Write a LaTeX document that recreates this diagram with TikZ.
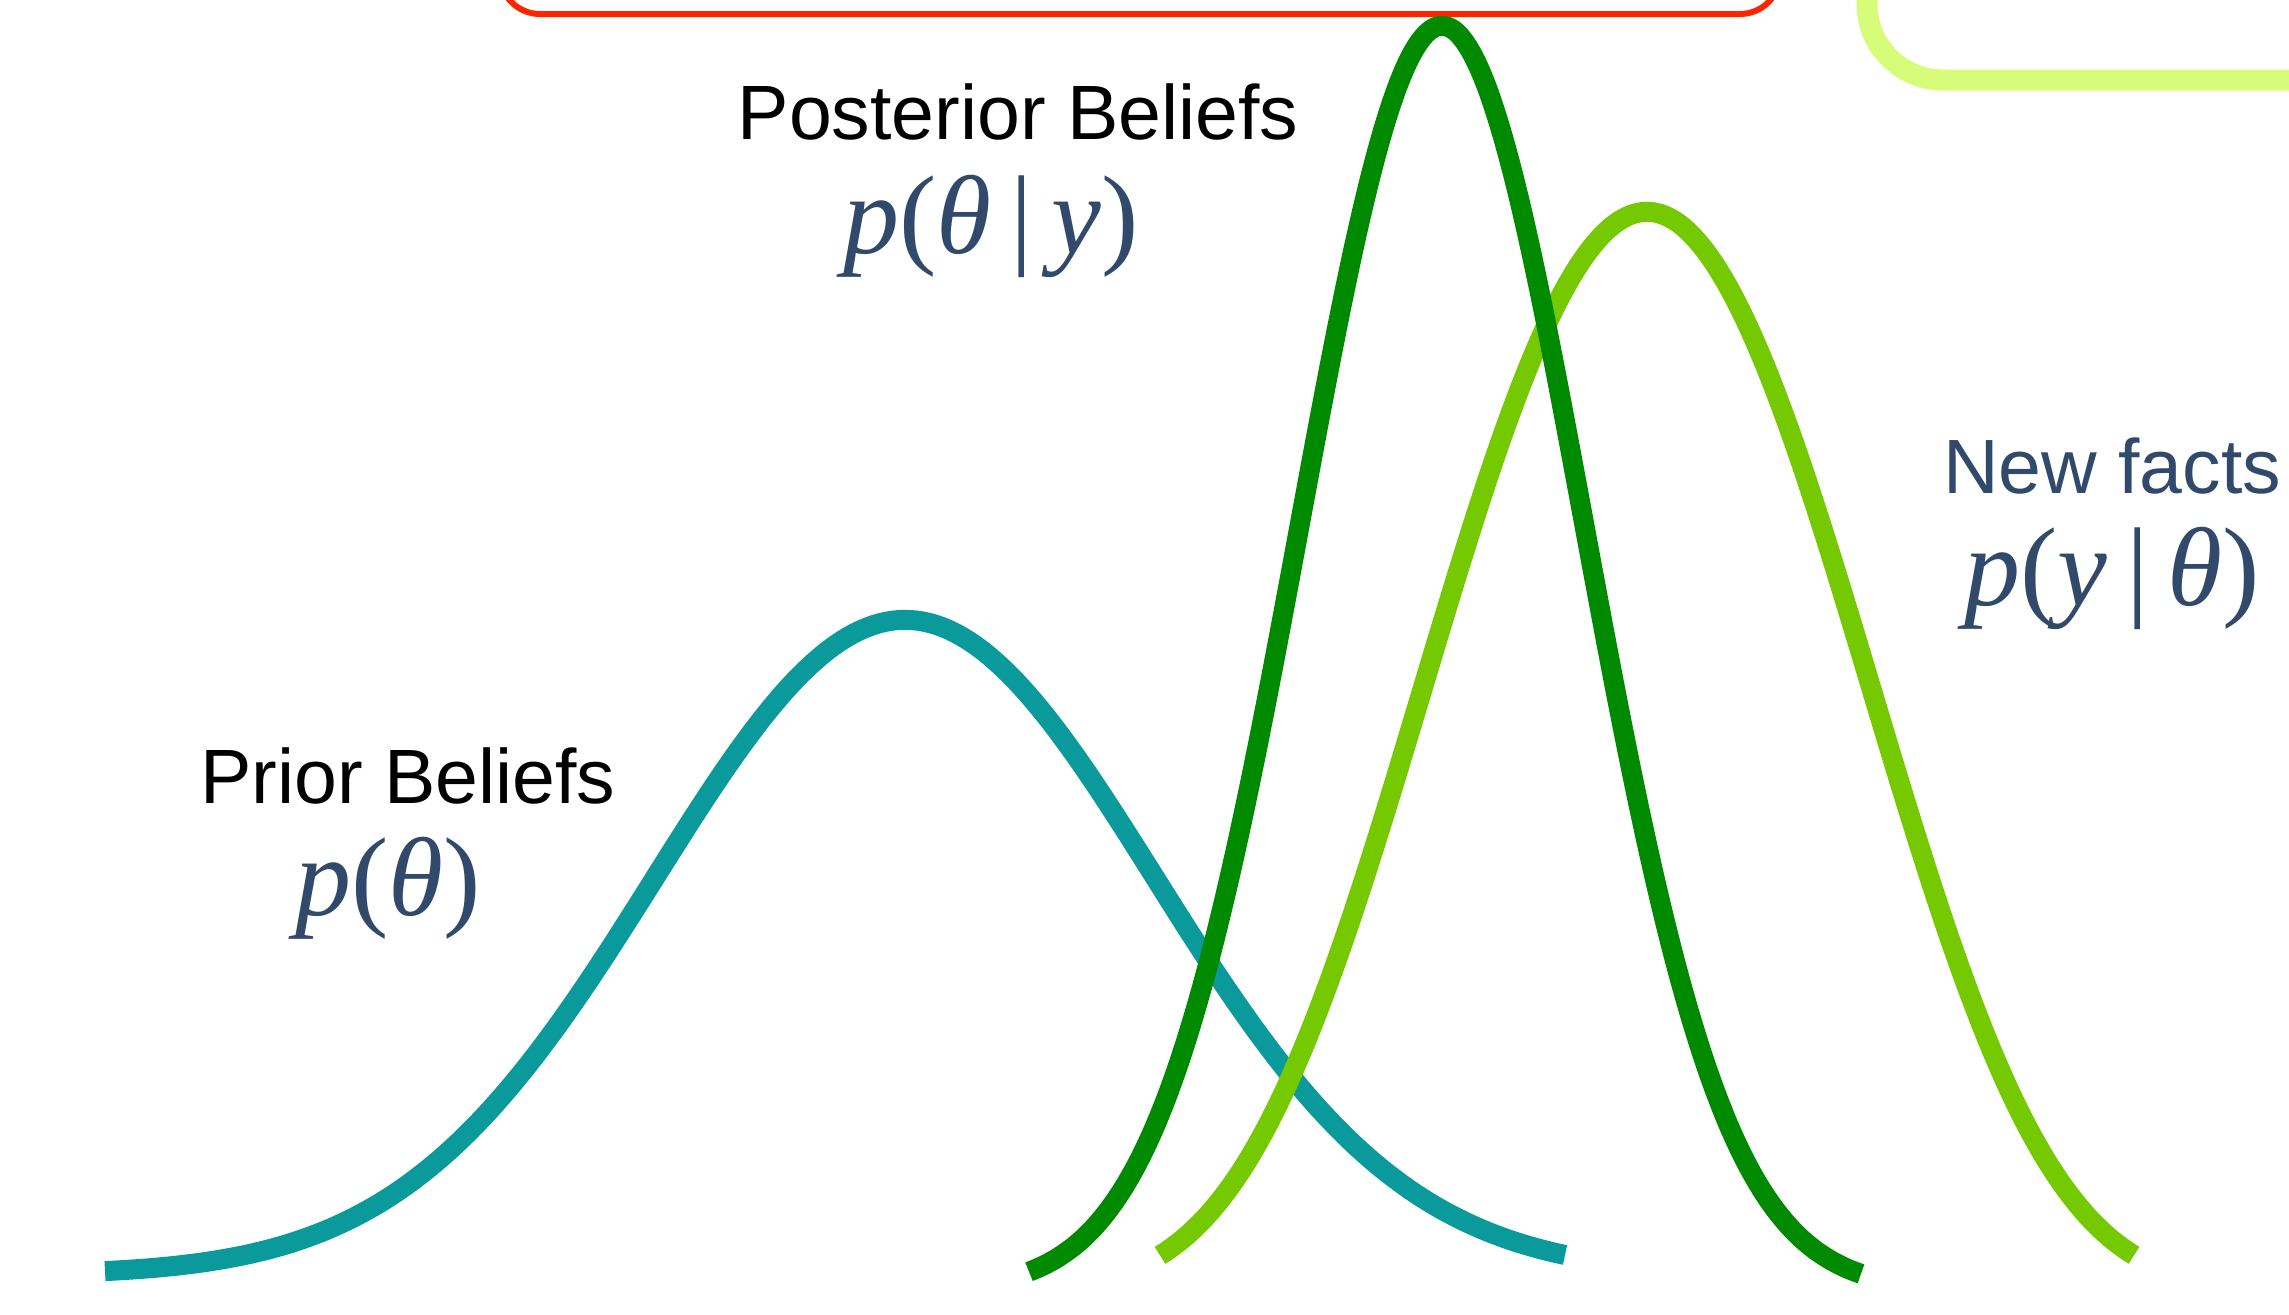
\documentclass[tikz,border=0pt]{standalone}
\usepackage{fontspec}
\setmainfont{Liberation Sans}
\newfontfamily\serifmath{Liberation Serif}
\usepackage{tikz}
\definecolor{priorteal}{HTML}{0A9A9C}
\definecolor{postgreen}{HTML}{008A00}
\definecolor{factlime}{HTML}{74C900}
\definecolor{boxred}{HTML}{FF2400}
\definecolor{boxlime}{HTML}{D6FC7A}
\definecolor{labelblue}{HTML}{31496A}

\begin{document}
\begin{tikzpicture}[
  x=0.5pt,y=-0.5pt,
  belief/.style={line width=10pt},
  heading/.style={anchor=base,inner sep=0pt,font=\fontsize{38.5}{42}\selectfont},
  formula/.style={anchor=base,inner sep=0pt,text=labelblue,
    font=\serifmath\fontsize{56}{60}\selectfont},
]
  \useasboundingbox (0,0) rectangle (2289,1314);
  \clip (0,0) rectangle (2289,1314);
  % frames cut by the page edge
  \draw[boxred,line width=3pt,rounded corners=20pt] (500,-200) rectangle (1780,14);
  \draw[boxlime,line width=10.5pt,rounded corners=38pt] (1867,-200) rectangle (2500,80);
  % the three densities
  \draw[belief,priorteal] plot[domain=105:1565,samples=150,smooth]
    (\x,{1275-655*exp(-0.5*((\x-905)/250)^2)});
  \draw[belief,factlime] plot[domain=1160:2134,samples=150,smooth]
    (\x,{1290-1078*exp(-0.5*((\x-1647)/215)^2-0.033*((\x-1647)/215)^4)});
  \draw[belief,postgreen] plot[domain=1029:1861,samples=150,smooth]
    (\x,{1290-1264*exp(-0.5*((\x-1442)/142)^2)});
  \node[heading] (posterior) at (1018,139) {Posterior Beliefs};
  \node[formula] (posteriorf) at (991,253) {\textit{p}(\textit{θ}\,|\,\textit{y})};
  \node[heading] (prior) at (408,803) {Prior Beliefs};
  \node[formula] (priorf) at (388,915) {\textit{p}(\textit{θ})};
  \node[heading,text=labelblue] (facts) at (2112,493) {New facts};
  \node[formula] (factsf) at (2112,605) {\textit{p}(\textit{y}\,|\,\textit{θ})};
\end{tikzpicture}
\end{document}
